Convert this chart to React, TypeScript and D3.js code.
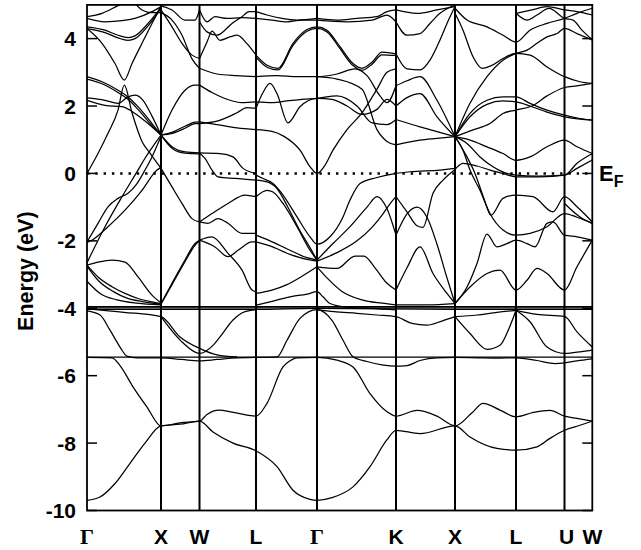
import React from 'react';
import * as d3 from 'd3';

// High-symmetry path (k in path units) and labels
const kTicks = [0, 0.74, 1.125, 1.69, 2.3, 3.09, 3.68, 4.29, 4.775, 5.053];
const kLabels = ['Γ', 'X', 'W', 'L', 'Γ', 'K', 'X', 'L', 'U', 'W'];
const energyTicks = [4, 2, 0, -2, -4, -6, -8, -10];
const energyRange = [-10, 5];
const fermiEnergy = 0;

type P = [number, number];

// Lowest (s-like) bands and flat levels
const coreBands: P[][] = [
  [[0,-9.7],[0.13,-9.6],[0.28,-9.2],[0.43,-8.6],[0.58,-8.0],[0.74,-7.49],[0.93,-7.44],[1.125,-7.35],[1.26,-7.67],[1.46,-8.0],[1.69,-8.23],[1.9,-8.7],[2.06,-9.4],[2.23,-9.67],[2.3,-9.7],[2.45,-9.62],[2.66,-9.3],[2.83,-8.7],[3.0,-7.9],[3.09,-7.62],[3.33,-7.72],[3.68,-7.49],[3.83,-7.82],[4.1,-8.16],[4.29,-8.21],[4.5,-8.11],[4.63,-7.86],[4.775,-7.62],[4.93,-7.47],[5.053,-7.35]],
  [[0,-5.46],[0.25,-5.47],[0.33,-5.7],[0.46,-6.33],[0.6,-6.93],[0.74,-7.49],[0.93,-7.4],[1.125,-7.35],[1.2,-7.15],[1.32,-7.02],[1.45,-7.08],[1.6,-7.17],[1.69,-7.2],[1.8,-6.82],[1.96,-5.74],[2.03,-5.56],[2.1,-5.47],[2.3,-5.46],[2.5,-5.54],[2.66,-5.74],[2.83,-6.53],[3.0,-7.07],[3.09,-7.2],[3.3,-7.03],[3.5,-7.2],[3.68,-7.49],[3.85,-7.1],[3.96,-6.82],[4.13,-7.02],[4.29,-7.22],[4.45,-7.1],[4.63,-7.03],[4.775,-7.2],[4.9,-7.27],[5.053,-7.35]],
  [[0,-5.45],[5.053,-5.45]],
  [[0,-4.08],[0.13,-4.2],[0.23,-4.65],[0.33,-5.15],[0.4,-5.42],[0.5,-5.47],[0.74,-5.47],[0.95,-5.52],[1.125,-5.56],[1.3,-5.52],[1.5,-5.47],[1.69,-5.46],[1.9,-5.44],[2.0,-4.95],[2.13,-4.3],[2.3,-4.04],[2.45,-4.36],[2.56,-4.95],[2.66,-5.44],[2.8,-5.58],[2.95,-5.68],[3.09,-5.72],[3.2,-5.7],[3.33,-5.55],[3.5,-5.47],[3.68,-5.46],[3.9,-5.47],[4.1,-5.48],[4.29,-5.47],[4.5,-5.55],[4.68,-5.64],[4.775,-5.62],[4.9,-5.56],[5.053,-5.5]],
];

// d-like bands around -4 eV
const dBands: P[][] = [
  [[0,-3.95],[5.053,-3.95]],
  [[0,-3.99],[5.053,-3.99]],
  [[0,-4.03],[1.69,-4.03],[2.3,-4.0],[3.68,-4.03],[5.053,-4.03]],
  [[0,-4.02],[0.37,-4.12],[0.74,-4.25],[0.93,-4.85],[1.125,-5.19],[1.3,-5.38],[1.5,-5.44]],
  [[0.74,-4.25],[0.95,-5.0],[1.125,-5.34],[1.26,-5.1],[1.33,-4.85],[1.46,-4.35],[1.58,-4.1],[1.69,-4.05]],
  [[1.69,-3.91],[1.83,-3.81],[2.03,-3.66],[2.2,-3.58],[2.3,-3.51],[2.36,-3.66],[2.43,-3.86],[2.6,-3.97],[2.85,-4.0],[3.09,-4.05]],
  [[2.3,-4.04],[2.47,-4.1],[2.7,-4.15],[2.9,-4.2],[3.09,-4.25],[3.25,-4.45],[3.4,-4.5],[3.55,-4.38],[3.68,-4.25]],
  [[3.68,-4.25],[3.83,-4.75],[4.0,-5.22],[4.13,-5.1],[4.22,-4.6],[4.29,-4.06]],
  [[3.68,-4.25],[3.9,-4.2],[4.1,-4.12],[4.29,-4.06]],
  [[4.29,-4.06],[4.43,-4.4],[4.6,-5.15],[4.775,-5.34],[4.9,-5.3],[5.053,-5.24]],
  [[4.29,-4.06],[4.5,-4.18],[4.775,-4.24],[4.9,-4.7],[5.053,-5.15]],
  [[0,-2.72],[0.11,-3.07],[0.25,-3.36],[0.38,-3.56],[0.51,-3.71],[0.65,-3.81],[0.74,-3.86]],
  [[0,-2.75],[0.12,-3.2],[0.26,-3.5],[0.4,-3.7],[0.55,-3.8],[0.74,-3.88]],
  [[0,-3.2],[0.13,-3.56],[0.3,-3.75],[0.5,-3.85],[0.74,-3.9]],
  [[0,-2.72],[0.11,-2.63],[0.25,-2.57],[0.38,-2.63],[0.51,-3.07],[0.65,-3.61],[0.74,-3.84]],
  [[0.74,-3.86],[0.85,-3.26],[0.98,-2.57],[1.08,-2.08],[1.125,-1.98]],
  [[0.74,-3.88],[0.85,-3.3],[0.98,-2.62],[1.08,-2.13],[1.125,-2.0]],
  [[3.09,-3.9],[3.4,-3.9],[3.68,-3.86]],
];

// Valence bands between -3.6 eV and the Fermi level
const valenceBands: P[][] = [
  [[0,-2.65],[0.18,-1.58],[0.35,-0.69],[0.51,0.1],[0.58,0.45],[0.68,0.89],[0.74,1.14]],
  [[0,-2.03],[0.11,-1.48],[0.21,-0.99],[0.31,-0.74],[0.41,-0.59],[0.5,-0.3],[0.58,0.1],[0.65,0.49],[0.74,1.1]],
  [[0,-2.05],[0.05,-1.98],[0.21,-1.58],[0.38,-1.09],[0.55,-0.5],[0.7,0.1],[0.74,0.18]],
  [[0.74,0.15],[0.85,-0.4],[0.95,-0.89],[1.05,-1.34],[1.125,-1.44]],
  [[1.125,-1.44],[1.25,-1.19],[1.41,-0.89],[1.58,-0.64],[1.69,-0.69]],
  [[1.125,-1.44],[1.21,-1.48],[1.31,-1.34],[1.41,-1.48],[1.55,-1.78],[1.69,-1.78]],
  [[1.125,-1.98],[1.25,-1.88],[1.41,-2.37],[1.55,-2.87],[1.65,-3.46],[1.69,-3.51]],
  [[1.125,-1.98],[1.28,-2.18],[1.41,-2.47],[1.51,-2.28],[1.65,-2.03],[1.69,-2.03]],
  [[1.125,0.61],[1.33,0.59],[1.46,0.49],[1.56,0.15],[1.69,0.0]],
  [[1.125,0.6],[1.18,0.45],[1.25,0.1],[1.31,-0.1],[1.48,-0.15],[1.69,-0.2]],
  [[1.69,-0.05],[1.76,-0.15],[1.86,-0.3],[1.96,-0.64],[2.1,-1.29],[2.23,-1.88],[2.3,-2.1],[2.43,-1.88],[2.56,-1.29],[2.63,-0.79],[2.73,-0.3],[2.9,-0.12],[3.09,0.0],[3.23,0.05],[3.53,0.1],[3.68,0.15]],
  [[1.69,-0.69],[1.8,-0.5],[1.86,-0.55],[1.96,-0.89],[2.1,-1.58],[2.23,-2.28],[2.3,-2.57]],
  [[1.69,-0.2],[1.8,-0.25],[1.9,-0.45],[2.0,-0.95],[2.12,-1.65],[2.23,-2.2],[2.3,-2.57]],
  [[1.69,-1.83],[1.83,-2.0],[2.03,-2.28],[2.2,-2.5],[2.3,-2.57]],
  [[1.69,-2.03],[1.83,-2.15],[2.03,-2.4],[2.2,-2.55],[2.3,-2.6]],
  [[1.69,-3.56],[1.85,-3.46],[2.0,-3.3],[2.15,-3.05],[2.3,-2.77]],
  [[2.3,-2.57],[2.46,-2.08],[2.63,-1.58],[2.8,-1.0],[2.9,-0.69],[3.0,-1.05],[3.09,-1.83]],
  [[2.3,-2.6],[2.5,-2.35],[2.7,-2.0],[2.85,-1.6],[2.96,-1.2],[3.03,-0.9],[3.09,-0.69]],
  [[2.3,-2.77],[2.5,-2.82],[2.68,-2.45],[2.77,-2.45],[2.88,-2.8],[3.0,-3.26],[3.09,-3.46]],
  [[2.3,-2.77],[2.4,-3.1],[2.55,-3.5],[2.75,-3.75],[2.95,-3.85],[3.09,-3.9]],
  [[3.09,-0.69],[3.2,-1.14],[3.3,-1.55],[3.36,-1.6],[3.46,-0.59],[3.56,-0.2],[3.68,0.12]],
  [[3.09,-3.46],[3.2,-2.8],[3.33,-2.18],[3.46,-2.97],[3.6,-3.56],[3.68,-3.86]],
  [[3.09,-1.83],[3.2,-1.2],[3.3,-1.0],[3.4,-1.3],[3.5,-2.1],[3.6,-3.1],[3.68,-3.86]],
  [[3.68,1.09],[3.76,0.69],[3.83,0.1],[3.93,-0.5],[4.03,-1.19],[4.16,-1.68],[4.29,-1.83],[4.43,-1.78],[4.6,-1.58],[4.775,-1.19],[4.9,-1.3],[5.053,-1.48]],
  [[3.68,1.09],[3.78,0.6],[3.88,0.0],[3.97,-0.75],[4.04,-1.24],[4.16,-0.74],[4.29,-0.64],[4.46,-0.69],[4.66,-1.14],[4.775,-0.69],[4.9,-0.99],[5.053,-1.44]],
  [[4.775,-0.89],[4.93,-1.29],[5.053,-1.48]],
  [[3.68,-3.86],[3.8,-3.37],[3.9,-2.67],[4.0,-1.8],[4.1,-2.18],[4.2,-2.08],[4.29,-1.98],[4.4,-2.08],[4.48,-2.18],[4.6,-1.48],[4.66,-1.44],[4.775,-1.83],[4.9,-1.88],[5.053,-1.98]],
  [[3.68,-3.86],[3.83,-3.37],[4.0,-2.97],[4.13,-2.87],[4.29,-3.46],[4.4,-3.17],[4.5,-2.82],[4.6,-2.97],[4.775,-3.46],[4.9,-2.77],[5.053,-1.98]],
  [[3.68,0.12],[3.76,0.3],[3.9,0.22],[4.03,0.1],[4.16,0.0],[4.29,-0.1],[4.53,-0.1],[4.775,-0.05],[4.9,0.15],[5.053,0.4]],
];

// Conduction bands above the Fermi level
const conductionBands: P[][] = [
  [[0,0.0],[0.11,0.59],[0.21,1.19],[0.31,1.88],[0.373,2.62],[0.45,1.8],[0.55,0.95],[0.63,0.6],[0.74,0.15]],
  [[0,2.17],[0.18,2.02],[0.35,1.98],[0.48,1.78],[0.61,1.48],[0.74,1.14]],
  [[0,2.24],[0.18,2.17],[0.31,2.08],[0.41,2.27],[0.48,2.32],[0.56,2.17],[0.65,1.7],[0.74,1.14]],
  [[0,2.87],[0.15,2.72],[0.31,2.47],[0.41,2.27],[0.51,1.98],[0.65,1.48],[0.74,1.14]],
  [[0,2.8],[0.15,2.66],[0.31,2.4],[0.41,2.2],[0.51,1.9],[0.65,1.42],[0.74,1.14]],
  [[0,4.3],[0.15,3.86],[0.28,3.26],[0.373,2.77],[0.45,3.26],[0.55,3.86],[0.65,4.45],[0.74,4.95]],
  [[0,4.35],[0.18,4.25],[0.31,4.1],[0.41,4.03],[0.48,4.08],[0.61,4.45],[0.74,4.93]],
  [[0,4.3],[0.18,4.18],[0.31,4.02],[0.41,3.95],[0.48,4.0],[0.61,4.38],[0.74,4.9]],
  [[0,4.65],[0.15,4.75],[0.31,4.98],[0.36,5.05]],
  [[0,4.6],[0.18,4.5],[0.35,4.53],[0.48,4.6],[0.65,4.8],[0.74,4.95]],
  [[0.48,5.05],[0.55,4.85],[0.65,4.77],[0.74,4.77]],
  [[0.74,4.97],[0.85,4.85],[0.98,4.55],[1.08,4.55],[1.125,4.85]],
  [[0.74,4.85],[0.85,4.35],[0.95,3.86],[1.05,3.51],[1.125,3.41]],
  [[0.74,4.77],[0.85,4.55],[0.95,4.1],[1.05,3.4],[1.125,3.12]],
  [[0.74,1.14],[0.85,1.88],[0.98,2.47],[1.08,2.62],[1.125,2.62]],
  [[0.74,1.14],[0.85,1.19],[0.98,1.34],[1.08,1.48],[1.125,1.48]],
  [[0.74,1.14],[0.85,1.22],[0.98,1.4],[1.08,1.52],[1.125,1.53]],
  [[0.74,1.14],[0.85,0.79],[0.98,0.64],[1.125,0.61]],
  [[0.74,1.14],[0.85,0.75],[0.98,0.6],[1.125,0.58]],
  [[1.125,4.85],[1.2,4.5],[1.28,4.65],[1.4,4.6],[1.55,4.62],[1.69,4.6]],
  [[1.125,4.5],[1.2,4.2],[1.3,4.1],[1.45,4.45],[1.55,4.65],[1.62,4.8],[1.69,4.8]],
  [[1.125,3.41],[1.2,3.9],[1.25,4.22],[1.33,3.95],[1.43,4.05],[1.5,4.1],[1.6,3.85],[1.69,3.51]],
  [[1.125,3.12],[1.3,2.95],[1.5,2.9],[1.69,2.87]],
  [[1.125,2.62],[1.25,2.4],[1.4,2.2],[1.55,2.1],[1.69,2.12]],
  [[1.125,1.48],[1.3,1.55],[1.5,1.8],[1.6,1.95],[1.69,1.93]],
  [[1.125,1.53],[1.3,1.45],[1.5,1.35],[1.69,1.3]],
  [[1.69,4.8],[1.8,4.7],[1.95,4.6],[2.1,4.55],[2.3,4.6]],
  [[1.69,4.6],[1.85,4.55],[2.0,4.5],[2.15,4.55],[2.3,4.55]],
  [[1.69,3.51],[1.8,3.21],[1.91,3.12],[2.06,3.86],[2.2,4.27],[2.3,4.35],[2.4,4.25],[2.53,3.76],[2.66,3.26],[2.75,3.12],[2.85,3.3],[2.95,3.6],[3.09,3.55]],
  [[1.69,3.45],[1.8,3.15],[1.91,3.07],[2.06,3.8],[2.2,4.22],[2.3,4.3],[2.4,4.2],[2.53,3.7],[2.66,3.2],[2.75,3.06],[2.85,3.24],[2.95,3.52],[3.09,3.5]],
  [[1.69,2.87],[1.9,2.9],[2.1,2.87],[2.3,2.87],[2.5,2.95],[2.68,3.1],[2.8,2.9],[2.93,2.3],[3.0,2.1],[3.09,2.6]],
  [[1.69,1.93],[1.76,2.4],[1.83,2.67],[1.9,2.37],[2.01,1.5],[2.13,1.98],[2.3,2.23],[2.45,2.2],[2.6,2.0],[2.75,1.75],[2.9,1.9],[3.0,2.2],[3.09,2.0]],
  [[1.69,2.12],[1.85,2.1],[2.0,2.15],[2.15,2.2],[2.3,2.23],[2.5,2.3],[2.7,2.0],[2.85,1.5],[3.0,1.45],[3.09,1.6]],
  [[1.69,1.3],[1.85,1.25],[1.97,1.1],[2.13,0.69],[2.23,0.2],[2.3,0.0],[2.37,0.2],[2.46,0.69],[2.6,1.3],[2.75,1.8],[2.9,2.5],[3.0,3.0],[3.09,3.1]],
  [[2.3,2.87],[2.5,2.8],[2.75,2.5],[2.9,1.3],[3.0,0.95],[3.09,0.85]],
  [[2.3,4.6],[2.5,4.55],[2.7,4.6],[2.9,4.65],[3.0,4.8],[3.09,4.85]],
  [[2.3,4.55],[2.6,4.5],[2.85,4.55],[3.0,4.7],[3.09,4.5]],
  [[3.09,4.85],[3.3,4.75],[3.5,4.85],[3.68,4.95]],
  [[3.09,4.5],[3.2,4.1],[3.33,4.15],[3.43,4.45],[3.53,4.75],[3.68,5.0]],
  [[3.09,3.55],[3.2,3.1],[3.33,3.07],[3.43,3.36],[3.53,3.96],[3.6,4.45],[3.68,4.95]],
  [[3.09,2.6],[3.2,2.75],[3.33,2.87],[3.5,2.17],[3.68,1.09]],
  [[3.09,2.0],[3.2,2.25],[3.33,2.37],[3.5,1.68],[3.68,1.09]],
  [[3.09,1.6],[3.33,1.38],[3.5,1.24],[3.68,1.09]],
  [[3.09,0.85],[3.33,0.99],[3.5,1.04],[3.68,1.09]],
  [[3.68,4.75],[3.76,4.25],[3.86,3.46],[3.95,3.12],[4.05,3.21],[4.16,3.41],[4.29,3.56],[4.43,3.51],[4.6,3.16],[4.775,2.87],[4.93,2.72],[5.053,2.67]],
  [[3.68,4.9],[3.8,4.55],[4.0,4.35],[4.16,4.1],[4.29,3.9],[4.43,4.25],[4.6,4.45],[4.775,4.6],[4.9,4.75],[5.053,4.9]],
  [[3.68,1.09],[3.83,2.08],[4.0,2.87],[4.16,3.36],[4.29,3.56],[4.4,3.66],[4.5,3.86],[4.6,4.05],[4.7,4.15],[4.775,4.3],[4.9,4.15],[5.053,3.96]],
  [[3.68,1.09],[3.83,1.78],[4.0,2.17],[4.16,2.27],[4.29,2.27],[4.43,2.08],[4.6,1.88],[4.775,1.73],[4.93,1.63],[5.053,1.58]],
  [[3.68,1.09],[3.83,1.68],[4.0,2.05],[4.16,2.15],[4.29,2.12],[4.43,2.0],[4.6,1.82],[4.775,1.68],[4.93,1.61],[5.053,1.58]],
  [[3.68,1.09],[3.86,1.29],[4.03,1.48],[4.16,1.78],[4.29,1.88],[4.45,2.0],[4.6,2.3],[4.775,2.55],[4.9,2.6],[5.053,2.67]],
  [[3.68,1.09],[3.83,0.99],[4.0,0.79],[4.16,0.59],[4.29,0.39],[4.43,0.49],[4.6,0.79],[4.775,0.99],[4.9,0.79],[5.053,0.59]],
  [[3.68,1.09],[3.8,0.89],[3.93,0.49],[4.06,0.2],[4.2,0.0],[4.29,-0.05],[4.5,-0.08],[4.775,-0.05],[4.9,0.3],[5.053,0.59]],
  [[4.29,4.75],[4.4,4.55],[4.5,4.7],[4.62,4.9],[4.775,4.6],[4.86,4.55],[4.95,4.25],[5.053,3.96]],
  [[4.29,4.75],[4.45,4.85],[4.6,4.95],[4.775,4.85],[4.9,4.8],[5.053,4.7]],
];

const allBands = [...coreBands, ...dBands, ...valenceBands, ...conductionBands];

const W = 641;
const H = 550;
const plot = { left: 87, right: 592.3, top: 4.9, bottom: 510.5 };

export default function App() {
  const x = d3.scaleLinear().domain([kTicks[0], kTicks[kTicks.length - 1]]).range([plot.left, plot.right]);
  const y = d3.scaleLinear().domain(energyRange).range([plot.bottom, plot.top]);
  const line = d3
    .line<P>()
    .x((d) => x(d[0]))
    .y((d) => y(d[1]))
    .curve(d3.curveMonotoneX);

  const sans = '"Liberation Sans", Arial, Helvetica, sans-serif';
  const serif = '"Liberation Serif", "Times New Roman", serif';

  return (
    <svg
      width={W}
      height={H}
      viewBox={`0 0 ${W} ${H}`}
      style={{ position: 'absolute', left: 0, top: 0, background: '#fff' }}
    >
      <defs>
        <clipPath id="plotClip">
          <rect x={plot.left} y={plot.top} width={plot.right - plot.left} height={plot.bottom - plot.top} />
        </clipPath>
      </defs>

      <g clipPath="url(#plotClip)" fill="none" stroke="#000" strokeWidth={1.25} strokeLinejoin="round">
        {allBands.map((b, i) => (
          <path key={i} d={line(b) || ''} />
        ))}
      </g>

      {/* high-symmetry vertical lines */}
      <g stroke="#000" strokeWidth={2}>
        {kTicks.slice(1, -1).map((k, i) => (
          <line key={i} x1={x(k)} x2={x(k)} y1={plot.top} y2={plot.bottom} />
        ))}
      </g>

      {/* Fermi level */}
      <line
        x1={plot.left}
        x2={plot.right}
        y1={y(fermiEnergy)}
        y2={y(fermiEnergy)}
        stroke="#000"
        strokeWidth={2.4}
        strokeDasharray="2.4,5.9"
      />

      {/* frame */}
      <rect
        x={plot.left}
        y={plot.top}
        width={plot.right - plot.left}
        height={plot.bottom - plot.top}
        fill="none"
        stroke="#000"
        strokeWidth={1.8}
      />

      {/* ticks */}
      <g stroke="#000" strokeWidth={1.5}>
        {energyTicks.map((e) => (
          <g key={e}>
            <line x1={plot.left} x2={plot.left + 10} y1={y(e)} y2={y(e)} />
            <line x1={plot.right - 10} x2={plot.right} y1={y(e)} y2={y(e)} />
          </g>
        ))}
      </g>

      <g fontFamily={sans} fontWeight="bold" fontSize={21} textAnchor="end">
        {energyTicks.map((e) => (
          <text key={e} x={76} y={y(e)} dy="0.36em">
            {e}
          </text>
        ))}
      </g>

      <g fontWeight="bold" fontSize={21} textAnchor="middle">
        {kLabels.map((lab, i) => (
          <text
            key={i}
            x={x(kTicks[i]) + (lab === 'U' ? 2 : 0)}
            y={543.5}
            fontFamily={lab === 'Γ' ? serif : sans}
            fontSize={lab === 'Γ' ? 22 : 21}
          >
            {lab}
          </text>
        ))}
      </g>

      <text
        transform={`translate(33,${(y(-2.9))}) rotate(-90)`}
        textAnchor="middle"
        fontFamily={sans}
        fontWeight="bold"
        fontSize={21.5}
      >
        Energy (eV)
      </text>

      <text x={599} y={180.5} fontFamily={sans} fontWeight="bold" fontSize={22}>
        E
        <tspan fontSize={16} dy={6}>
          F
        </tspan>
      </text>
    </svg>
  );
}
